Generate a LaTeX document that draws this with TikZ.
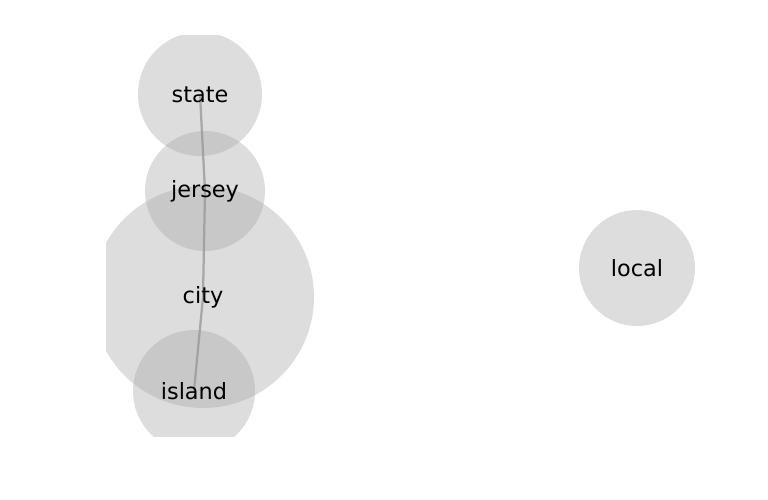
\documentclass[tikz,border=0pt]{standalone}
\usepackage{fontspec}
\setmainfont{DejaVu Sans}
\usepackage{tikz}

\begin{document}
\begin{tikzpicture}[x=0.75pt,y=0.75pt,yscale=-1,xscale=1,
  blob/.style={circle,inner sep=0pt,fill={rgb, 255:red, 166; green, 166; blue, 166 },fill opacity=0.38},
  link/.style={draw={rgb, 255:red, 150; green, 150; blue, 150 },draw opacity=0.75,line width=1.7pt},
  word/.style={inner sep=0.75pt,font=\fontsize{16.8}{20}\selectfont}]
\useasboundingbox (0,0) rectangle (768,500);

\begin{scope}
\clip (106,35) rectangle (700,436);
%Shape: Circle
\node [blob,minimum size=93pt] (state) at (200,94) {};
%Shape: Circle
\node [blob,minimum size=90pt] (jersey) at (205,191) {};
%Shape: Circle
\node [blob,minimum size=166.5pt] (city) at (203,297) {};
%Shape: Circle
\node [blob,minimum size=91.5pt] (island) at (194,391) {};
%Shape: Circle
\node [blob,minimum size=87pt] (local) at (637,268) {};

%Straight Lines
\draw [link] (state.center) -- (jersey.center) ;
%Straight Lines
\draw [link] (jersey.center) -- (city.center) ;
%Straight Lines
\draw [link] (city.center) -- (island.center) ;
\end{scope}

% Text Node
\node [word] (state-txt) at ([yshift=0.4pt]state) {state};
% Text Node
\node [word] (jersey-txt) at ([yshift=0.4pt]jersey) {jersey};
% Text Node
\node [word] (city-txt) at ([yshift=0.4pt]city) {city};
% Text Node
\node [word] (island-txt) at ([yshift=0.4pt]island) {island};
% Text Node
\node [word] (local-txt) at ([yshift=0.4pt]local) {local};

\end{tikzpicture}
\end{document}
